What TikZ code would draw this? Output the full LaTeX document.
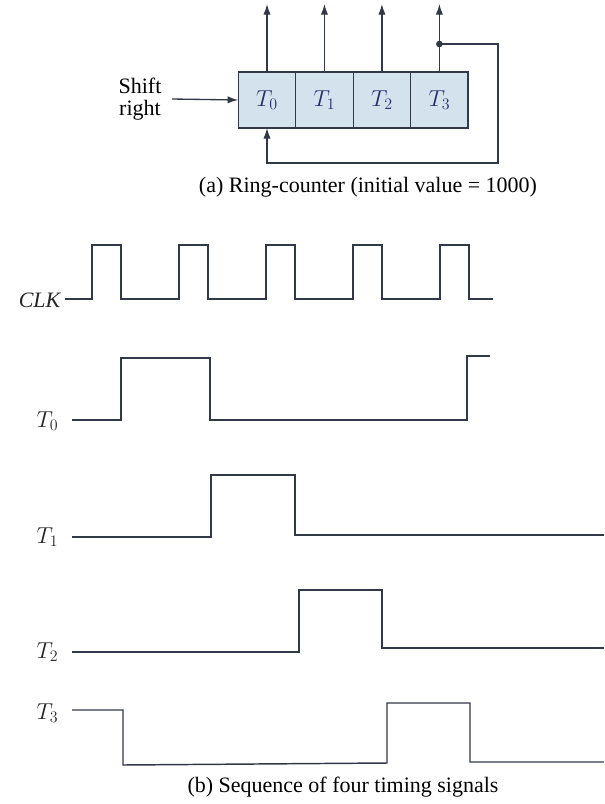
\documentclass[tikz,border=0pt]{standalone}
\usepackage{fontspec}
\setmainfont{Liberation Serif}
\usetikzlibrary{arrows.meta,positioning}
\definecolor{wire}{RGB}{50,56,70}
\definecolor{cellfill}{RGB}{212,226,238}
\tikzset{
  cell/.style={draw=wire,fill=cellfill,line width=1pt,outer sep=0pt,
    minimum width=43.1pt,minimum height=42pt,text=wire!80!blue},
  link/.style={draw=wire,line width=1pt},
  wave/.style={draw=wire,line width=1.1pt},
  sig/.style={anchor=east,text=black!85},
  tip/.style={-{Latex[length=8pt,width=5.5pt]}}
}
\begin{document}
\begin{tikzpicture}[x=0.75pt,y=-0.75pt,font=\fontsize{16.5}{18}\selectfont]
\useasboundingbox (0,0) rectangle (604,804);
% ring counter
\node[cell] (t0) at (267,100) {$T_0$};
\node[cell,right=0pt of t0] (t1) {$T_1$};
\node[cell,right=0pt of t1] (t2) {$T_2$};
\node[cell,right=0pt of t2] (t3) {$T_3$};
\foreach \c in {t0,t1,t2,t3}
  \draw[link,tip] (\c.north) -- ++(0,-68);
\path (t3.north) ++(0,-28) coordinate (tap);
\fill[wire] (tap) circle (2.5pt);
\draw[link,tip] (tap) -| (498,163) -| (t0.south);
\node[align=center] (shift) at (140,99) {Shift\\[-2pt]right};
\draw[link,tip] (172,99) -- (t0.west);
\node (capa) at (368,187) {(a) Ring-counter (initial value = 1000)};
% timing signals
\node[sig] (clk) at (66,300) {\textit{CLK}};
\draw[wave] (65,299) foreach \k in {0,...,4} {
  -- ({92+87*\k},299) -- ({92+87*\k},245) -- ({121+87*\k},245) -- ({121+87*\k},299)}
  -- (493,299);
\node[sig] (s0) at (63,421) {$T_0$};
\draw[wave] (72,420) -- (121,420) -- (121,358) -- (210,358) -- (210,420)
  -- (467,420) -- (467,356) -- (490,356);
\node[sig] (s1) at (63,537) {$T_1$};
\draw[wave] (72,537) -- (211,537) -- (211,475) -- (295,475) -- (295,535) -- (604,535);
\node[sig] (s2) at (63,652) {$T_2$};
\draw[wave] (72,652) -- (299,652) -- (299,590) -- (382,590) -- (382,648) -- (604,648);
\node[sig] (s3) at (63,713) {$T_3$};
\draw[wave] (72,710) -- (123,710) -- (123,765) -- (387,763) -- (387,703) -- (470,703)
  -- (470,762) -- (604,762);
\node (capb) at (343,787) {(b) Sequence of four timing signals};
\end{tikzpicture}
\end{document}
